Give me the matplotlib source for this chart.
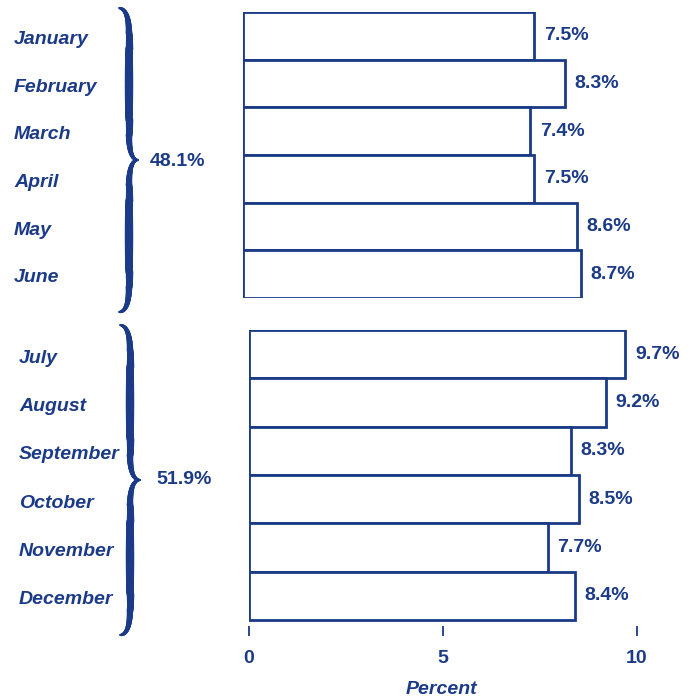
import numpy as np
from matplotlib import pyplot as plt
from matplotlib.collections import LineCollection
from matplotlib.transforms import blended_transform_factory

months_h1 = ['January', 'February', 'March', 'April', 'May', 'June']
values_h1 = [7.5, 8.3, 7.4, 7.5, 8.6, 8.7]
months_h2 = ['July', 'August', 'September', 'October', 'November', 'December']
values_h2 = [9.7, 9.2, 8.3, 8.5, 7.7, 8.4]
totals = ['48.1%', '51.9%']
xticks = [0, 5, 10]

navy = '#1b3a87'
W, H = 692, 698
plt.rcParams['font.family'] = ['Liberation Sans', 'DejaVu Sans']

fig = plt.figure(figsize=(W / 100, H / 100), dpi=100)

# overlay axes in pixel coordinates for the braces and free text
ov = fig.add_axes([0, 0, 1, 1])
ov.set_xlim(0, W)
ov.set_ylim(H, 0)
ov.axis('off')


def fig_box(left, top, right, bottom):
    return [left / W, 1 - bottom / H, (right - left) / W, (bottom - top) / H]


ax1 = fig.add_axes(fig_box(243, 12, W, 298))
ax2 = fig.add_axes(fig_box(249, 330, W, 626))
ax1.set_xlim(0, (W - 243) / 38.8)
ax2.set_xlim(0, (W - 249) / 38.8)
ax1.set_ylim(5.5, -0.5)
ax2.set_ylim(5.624, -0.5)

for ax, months, values, lx in [(ax1, months_h1, values_h1, 14),
                               (ax2, months_h2, values_h2, 19)]:
    y = np.arange(len(months))
    ax.barh(y, values, height=1.0, color='white', edgecolor=navy,
            linewidth=2.0)
    for yi, v in zip(y, values):
        ax.annotate(f'{v}%', (v, yi), xytext=(7, 0),
                    textcoords='offset points', va='center', ha='left',
                    fontsize=14, fontweight='bold', color=navy)
    tr = blended_transform_factory(ov.transData, ax.transData)
    for yi, m in zip(y, months):
        ax.text(lx, yi + 0.08, m, transform=tr, va='center', ha='left',
                fontsize=14, fontweight='bold', style='italic', color=navy)
    for s in ax.spines.values():
        s.set_visible(False)
    ax.set_yticks([])

ax1.set_xticks([])
ax2.set_xticks(xticks)
ax2.set_xticklabels([str(t) for t in xticks])
ax2.tick_params(axis='x', colors=navy, width=1.3, length=7, pad=10,
                labelsize=14)
for lab in ax2.get_xticklabels():
    lab.set_fontweight('bold')

ov.text(441, 689, 'Percent', ha='center', va='center', fontsize=14,
        fontweight='bold', style='italic', color=navy)


def quad(p0, p1, p2, n=40):
    t = np.linspace(0, 1, n)[:, None]
    p0, p1, p2 = map(np.array, (p0, p1, p2))
    return (1 - t) ** 2 * p0 + 2 * (1 - t) * t * p1 + t ** 2 * p2


def brace(xs, xt, xp, y0, y1, r=26):
    ym = (y0 + y1) / 2
    top = np.vstack([quad((xt, y0), (xs, y0 + 1), (xs, y0 + r)),
                     np.linspace((xs, y0 + r), (xs, ym - r), 60),
                     quad((xs, ym - r), (xs, ym), (xp, ym))])
    bot = np.vstack([quad((xp, ym), (xs, ym), (xs, ym + r)),
                     np.linspace((xs, ym + r), (xs, y1 - r), 60),
                     quad((xs, y1 - r), (xs, y1), (xt, y1))])
    for pts in (top, bot):
        d = np.r_[0, np.cumsum(np.hypot(*np.diff(pts, axis=0).T))]
        t = d / d[-1]
        w = 1.0 + 5.0 * np.sin(np.pi * t) ** 0.5
        segs = np.stack([pts[:-1], pts[1:]], axis=1)
        lc = LineCollection(segs, linewidths=(w[:-1] + w[1:]) / 2,
                            colors=navy, capstyle='round')
        ov.add_collection(lc)
    return ym


ym1 = brace(129, 119, 138, 8, 312)
ym2 = brace(130, 120, 140, 325, 635)
ov.text(150, ym1 + 2, totals[0], ha='left', va='center', fontsize=14,
        fontweight='bold', color=navy)
ov.text(156, ym2, totals[1], ha='left', va='center', fontsize=14,
        fontweight='bold', color=navy)

fig.savefig('out.png', dpi=100)
